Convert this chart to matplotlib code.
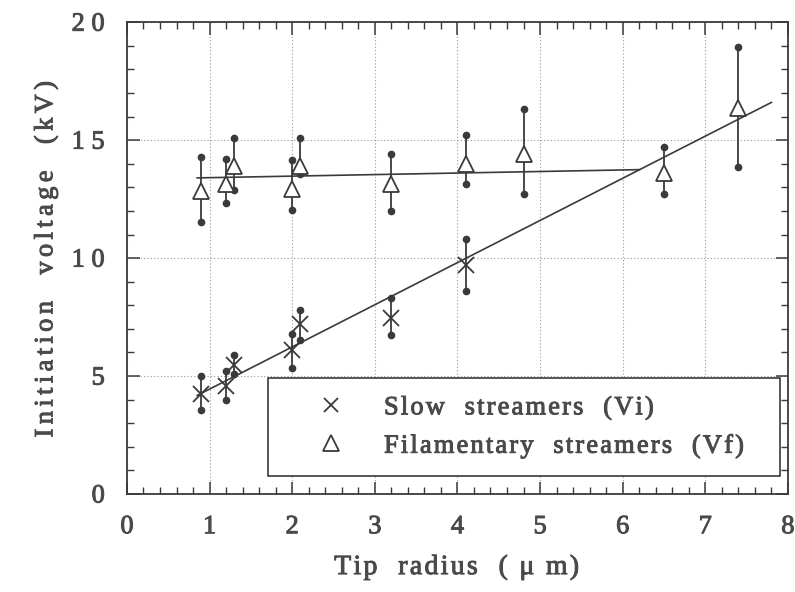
import numpy as np
import matplotlib.pyplot as plt
import matplotlib.patheffects as pe
from matplotlib.ticker import MultipleLocator, FuncFormatter
from matplotlib.lines import Line2D

# slow streamers: initiation voltage Vi (kV) vs tip radius (um)
slow_r = [0.9, 1.2, 1.3, 2.0, 2.1, 3.2, 4.1]
slow_v = [4.25, 4.6, 5.45, 6.1, 7.2, 7.45, 9.7]
slow_hi = [5.0, 5.2, 5.9, 6.8, 7.8, 8.3, 10.8]
slow_lo = [3.55, 4.0, 5.1, 5.35, 6.55, 6.75, 8.6]

# filamentary streamers: Vf (kV)
fil_r = [0.9, 1.2, 1.3, 2.0, 2.1, 3.2, 4.1, 4.8, 6.5, 7.4]
fil_v = [12.85, 13.15, 13.9, 12.95, 13.9, 13.15, 14.0, 14.4, 13.6, 16.35]
fil_hi = [14.3, 14.2, 15.1, 14.15, 15.1, 14.4, 15.2, 16.3, 14.7, 18.95]
fil_lo = [11.55, 12.35, 12.9, 12.05, 13.55, 12.0, 13.15, 12.7, 12.7, 13.85]

# fitted lines
slow_fit_r = [0.85, 7.8]
slow_fit_v = [4.18, 16.6]
fil_fit_r = [0.85, 6.2]
fil_fit_v = [13.4, 13.75]

ink = "#3a3a3a"
txt = "#4a4a4a"
serif = ["Liberation Serif", "DejaVu Serif"]
HAIR = "\u200a"
heavy = [pe.withStroke(linewidth=0.7, foreground=txt)]


def spaced(s, n=1):
    # widen the tracking by putting hair spaces between characters
    return (HAIR * n).join(s)


fig = plt.figure(figsize=(7.95, 5.92), dpi=100)
ax = fig.add_axes([0.1597, 0.1655, 0.8314, 0.797])

ax.grid(True, which="major", linestyle=(0, (1, 2)), color="#9a9a9a", linewidth=0.8)
ax.set_axisbelow(True)

ax.plot(slow_fit_r, slow_fit_v, color=ink, lw=1.2)
ax.plot(fil_fit_r, fil_fit_v, color=ink, lw=1.2)


def draw_series(r, v, lo, hi, marker, ms, mfc):
    ax.vlines(r, lo, hi, color=ink, lw=1.3, zorder=3)
    ax.plot(r, lo, "o", color=ink, ms=4.5, zorder=3)
    ax.plot(r, hi, "o", color=ink, ms=4.5, zorder=3)
    ax.plot(r, v, marker, ls="none", ms=ms, mfc=mfc, mec=ink, mew=1.3, zorder=4)


draw_series(slow_r, slow_v, slow_lo, slow_hi, "x", 11, ink)
draw_series(fil_r, fil_v, fil_lo, fil_hi, "^", 12, "white")

ax.set_xlim(0, 8)
ax.set_ylim(0, 20)
ax.xaxis.set_major_locator(MultipleLocator(1))
ax.xaxis.set_minor_locator(MultipleLocator(0.2))
ax.yaxis.set_major_locator(MultipleLocator(5))
ax.yaxis.set_minor_locator(MultipleLocator(1))
ax.yaxis.set_major_formatter(FuncFormatter(lambda v, p: spaced(f"{v:.0f}", 3)))
ax.tick_params(which="both", direction="in", top=True, right=True, colors=ink)
ax.tick_params(which="major", length=9, width=1.1, labelsize=19, labelcolor=txt, pad=16)
ax.tick_params(which="minor", length=5, width=1.0)
for lab in ax.get_xticklabels() + ax.get_yticklabels():
    lab.set_fontfamily(serif)
    lab.set_path_effects(heavy)
for s in ax.spines.values():
    s.set_color(ink)
    s.set_linewidth(1.3)

ax.set_xlabel(spaced("Tip  radius  ( \u03bc m)"), fontfamily=serif, fontsize=20,
              color=txt, labelpad=12, path_effects=heavy)
ax.set_ylabel(spaced("Initiation  voltage  (kV)", 2), fontfamily=serif, fontsize=19,
              color=txt, labelpad=10, path_effects=heavy)

handles = [
    Line2D([], [], marker="x", ls="none", ms=10, color=ink, mew=1.3),
    Line2D([], [], marker="^", ls="none", ms=11, mfc="white", mec=ink, mew=1.3),
]
labels = [spaced("Slow  streamers  (Vi)"), spaced("Filamentary  streamers  (Vf)")]
leg = ax.legend(handles, labels,
                loc="lower left", bbox_to_anchor=(0.214, 0.038, 0.774, 0.2),
                mode="expand", fancybox=False, framealpha=1, edgecolor=ink,
                prop={"family": serif, "size": 19}, handlelength=3.4,
                handletextpad=0.3, borderpad=0.68, labelspacing=0.55,
                borderaxespad=0)
leg.get_frame().set_linewidth(1.2)
for t in leg.get_texts():
    t.set_color(txt)
    t.set_path_effects(heavy)

fig.savefig("out.png", dpi=100)
